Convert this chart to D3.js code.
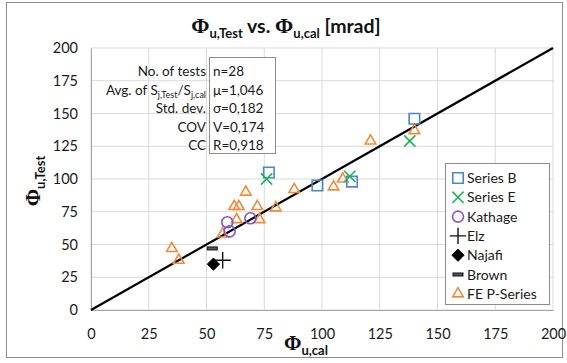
<!DOCTYPE html>
<html>
<head>
<meta charset="utf-8">
<script src="https://cdn.jsdelivr.net/npm/d3@7"></script>
<style>
  body { margin: 0; background: #fff; }
  text { font-family: Lato, "Open Sans", sans-serif; }
</style>
</head>
<body>
<div id="chart"></div>
<script>
// data (x = Phi_u,cal, y = Phi_u,Test)
var seriesB = [[77, 105], [98, 95], [113, 98], [140, 146]];
var seriesE = [[76, 100], [112, 102], [138, 129]];
var kathage = [[59, 67], [60, 60], [69, 70]];
var elz = [[57, 38]];
var najafi = [[53, 35]];
var brown = [[52.5, 47]];
var fePSeries = [[35, 47], [38, 38], [57, 58], [63, 69], [73, 69], [62, 79], [64, 79],
                 [72, 79], [80, 78], [67, 90], [88, 92], [105, 94], [109, 100], [121, 129], [140, 137]];
var ticks = [0, 25, 50, 75, 100, 125, 150, 175, 200];
var statLabels = ["No. of tests", "Avg. of S", "Std. dev.", "COV", "CC"];
var statValues = ["n=28", "μ=1,046", "σ=0,182", "V=0,174", "R=0,918"];
var legendNames = ["Series B", "Series E", "Kathage", "Elz", "Najafi", "Brown", "FE P-Series"];

var W = 567, H = 363;
var margin = {top: 48, right: 14, bottom: 53, left: 91},
    width = W - margin.left - margin.right,
    height = H - margin.top - margin.bottom;

var svgRoot = d3.select("#chart").append("svg")
    .attr("width", W)
    .attr("height", H);

// outer chart frame
svgRoot.append("rect")
    .attr("x", 6.5).attr("y", 2.5)
    .attr("width", 556).attr("height", 355)
    .attr("fill", "#fff")
    .attr("stroke", "#8c8c8c");

var svg = svgRoot.append("g")
    .attr("transform", `translate(${margin.left},${margin.top})`);

var xScale = d3.scaleLinear().domain([0, 200]).range([0, width]);
var yScale = d3.scaleLinear().domain([0, 200]).range([height, 0]);

// gridlines
svg.append("g").selectAll("line")
    .data(ticks)
    .enter().append("line")
    .attr("x1", 0).attr("x2", width)
    .attr("y1", d => yScale(d)).attr("y2", d => yScale(d))
    .attr("stroke", "#d9d9d9");
svg.append("g").selectAll("line")
    .data(ticks)
    .enter().append("line")
    .attr("y1", 0).attr("y2", height)
    .attr("x1", d => xScale(d)).attr("x2", d => xScale(d))
    .attr("stroke", "#d9d9d9");

// axes
var xAxis = svg.append("g")
    .attr("transform", `translate(0, ${height})`)
    .call(d3.axisBottom(xScale).tickValues(ticks).tickSize(0).tickPadding(19));
var yAxis = svg.append("g")
    .call(d3.axisLeft(yScale).tickValues(ticks).tickSize(0).tickPadding(13));
[xAxis, yAxis].forEach(function(a) {
    a.select(".domain").attr("stroke", "#a6a6a6");
    a.selectAll("text").attr("font-family", "Lato, sans-serif").attr("font-size", 14.5).attr("fill", "#1a1a1a");
});

// 1:1 line
svg.append("line")
    .attr("x1", xScale(0)).attr("y1", yScale(0))
    .attr("x2", xScale(200)).attr("y2", yScale(200))
    .attr("stroke", "#000").attr("stroke-width", 2.2);

// markers
function drawMarker(g, type) {
    if (type === "B") {
        g.append("path").attr("d", d3.symbol(d3.symbolSquare, 110)())
            .attr("fill", "none").attr("stroke", "#4a86c8").attr("stroke-width", 1.6);
    } else if (type === "E") {
        g.append("path").attr("d", d3.symbol(d3.symbolTimes, 85)())
            .attr("fill", "none").attr("stroke", "#1fb35a").attr("stroke-width", 1.6);
    } else if (type === "K") {
        g.append("circle").attr("r", 5.5)
            .attr("fill", "none").attr("stroke", "#8455c4").attr("stroke-width", 1.6);
    } else if (type === "Elz") {
        g.append("path").attr("d", d3.symbol(d3.symbolPlus, 90)())
            .attr("fill", "none").attr("stroke", "#111").attr("stroke-width", 1.4);
    } else if (type === "N") {
        g.append("path").attr("d", d3.symbol(d3.symbolDiamond2, 95)())
            .attr("fill", "#000").attr("stroke", "#000").attr("stroke-width", 1);
    } else if (type === "Br") {
        g.append("rect").attr("x", -5).attr("y", -1.5).attr("width", 10).attr("height", 3)
            .attr("fill", "#555").attr("stroke", "#111").attr("stroke-width", 1);
    } else if (type === "FE") {
        g.append("path").attr("d", d3.symbol(d3.symbolTriangle2, 80)())
            .attr("fill", "none").attr("stroke", "#f08a3c").attr("stroke-width", 1.6);
    }
}

var groups = [
    ["FE", fePSeries], ["K", kathage], ["B", seriesB], ["E", seriesE],
    ["Elz", elz], ["N", najafi], ["Br", brown]
];
groups.forEach(function(s) {
    svg.append("g").selectAll("g")
        .data(s[1])
        .enter().append("g")
        .attr("transform", d => `translate(${xScale(d[0])},${yScale(d[1])})`)
        .each(function() { drawMarker(d3.select(this), s[0]); });
});

// statistics box
var statBox = svgRoot.append("g");
statBox.append("rect")
    .attr("x", 209.5).attr("y", 57.5).attr("width", 66).attr("height", 96)
    .attr("fill", "#fff").attr("stroke", "#8c8c8c");
statLabels.forEach(function(t, i) {
    var txt = statBox.append("text")
        .attr("x", 206).attr("y", 76 + i * 18.5)
        .attr("text-anchor", "end")
        .attr("font-size", 13.5).attr("fill", "#1a1a1a");
    if (i === 1) {
        txt.append("tspan").text("Avg. of S");
        txt.append("tspan").attr("font-size", 9).attr("dy", 3).text("j,Test");
        txt.append("tspan").attr("dy", -3).text("/S");
        txt.append("tspan").attr("font-size", 9).attr("dy", 3).text("j,cal");
    } else {
        txt.text(t);
    }
});
statValues.forEach(function(t, i) {
    statBox.append("text")
        .attr("x", 213).attr("y", 76 + i * 18.5)
        .attr("font-size", 13.5).attr("fill", "#1a1a1a")
        .text(t);
});

// legend
var legend = svgRoot.append("g");
legend.append("rect")
    .attr("x", 445.5).attr("y", 163.5).attr("width", 104).attr("height", 141)
    .attr("fill", "#fff").attr("stroke", "#8c8c8c");
var legendTypes = ["B", "E", "K", "Elz", "N", "Br", "FE"];
legendNames.forEach(function(name, i) {
    var row = legend.append("g").attr("transform", `translate(0, ${178 + i * 19.3})`);
    var m = row.append("g").attr("transform", "translate(458,0)");
    drawMarker(m, legendTypes[i]);
    row.append("text")
        .attr("x", 467).attr("y", 5)
        .attr("font-size", 14).attr("fill", "#1a1a1a")
        .text(name);
});

// title
var title = svgRoot.append("text")
    .attr("x", 286).attr("y", 33)
    .attr("text-anchor", "middle")
    .attr("font-weight", "bold").attr("font-size", 19.5).attr("fill", "#111");
title.append("tspan").attr("font-family", "Liberation Serif, serif").attr("font-size", 22).text("Φ");
title.append("tspan").attr("font-size", 13).attr("dy", 5).text("u,Test");
title.append("tspan").attr("dy", -5).text(" vs. ");
title.append("tspan").attr("font-family", "Liberation Serif, serif").attr("font-size", 22).text("Φ");
title.append("tspan").attr("font-size", 13).attr("dy", 5).text("u,cal");
title.append("tspan").attr("dy", -5).text(" [mrad]");

// x axis title
var xTitle = svgRoot.append("text")
    .attr("x", 284).attr("y", 350)
    .attr("font-weight", "bold").attr("fill", "#111");
xTitle.append("tspan").attr("font-family", "Liberation Serif, serif").attr("font-size", 21).text("Φ");
xTitle.append("tspan").attr("font-size", 13).attr("dy", 5).text("u,cal");

// y axis title
var yTitle = svgRoot.append("text")
    .attr("transform", "translate(40,181) rotate(-90)")
    .attr("text-anchor", "middle")
    .attr("font-weight", "bold").attr("fill", "#111");
yTitle.append("tspan").attr("font-family", "Liberation Serif, serif").attr("font-size", 21).text("Φ");
yTitle.append("tspan").attr("font-size", 13).attr("dy", 5).text("u,Test");
</script>
</body>
</html>
